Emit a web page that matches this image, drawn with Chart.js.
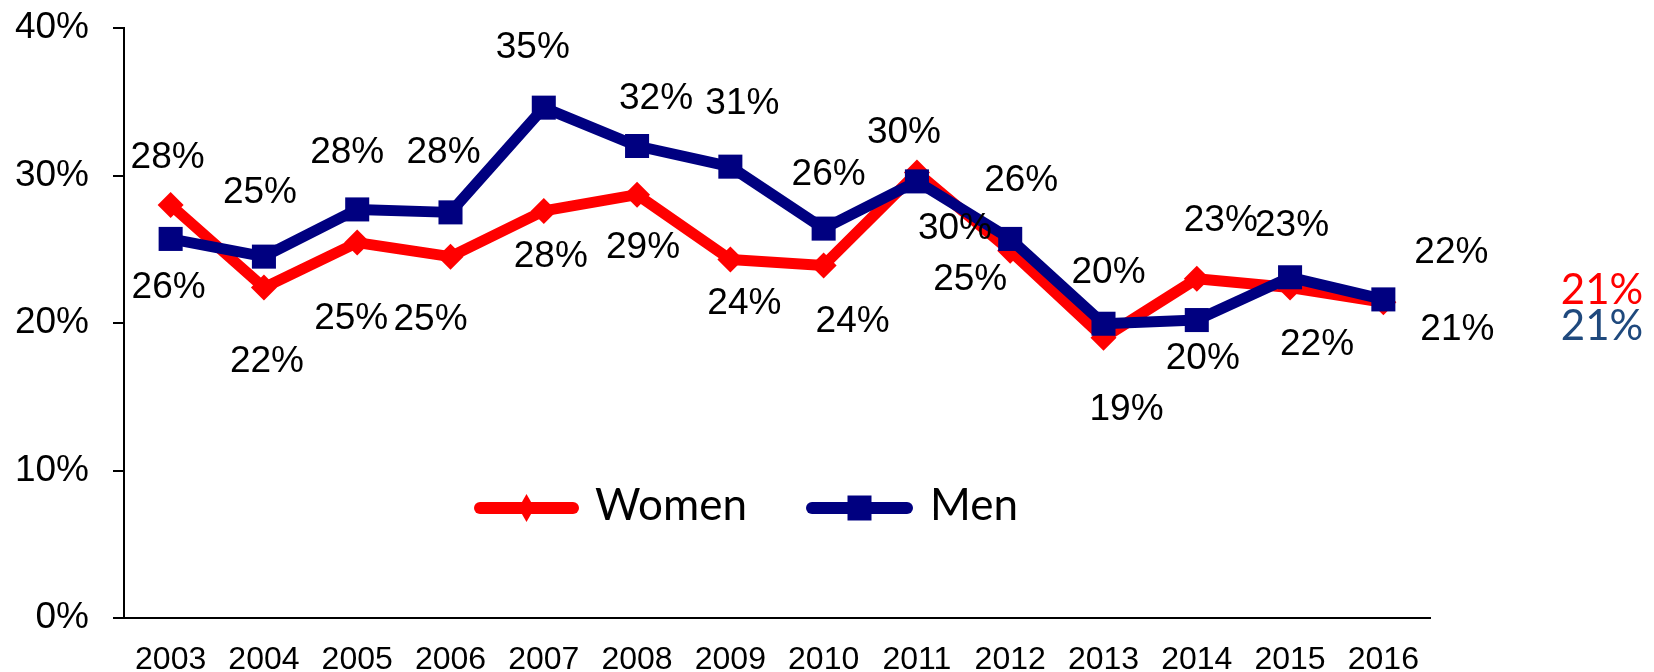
<!DOCTYPE html>
<html>
<head>
<meta charset="utf-8">
<script src="https://cdn.jsdelivr.net/npm/chart.js@4/dist/chart.umd.min.js"></script>
<style>
html,body{margin:0;padding:0;background:#fff;}
#wrap{width:1654px;height:672px;position:relative;}
</style>
</head>
<body>
<div id="wrap"><canvas id="c" width="1654" height="672"></canvas></div>
<script>
// ---- data ----
const years = ['2003','2004','2005','2006','2007','2008','2009','2010','2011','2012','2013','2014','2015','2016'];
const women = [28.0, 22.4, 25.45, 24.5, 27.6, 28.7, 24.3, 23.9, 30.2, 24.9, 19.0, 23.0, 22.4, 21.4];
const men   = [25.7, 24.5, 27.7, 27.5, 34.6, 32.0, 30.6, 26.4, 29.6, 25.7, 19.95, 20.2, 23.1, 21.6];
const seriesNames = ['Women', 'Men'];
const yTickStep = 10;
const yMax = 40;
const endLabels = ['21%', '21%'];

// ---- label placement (pixel offsets from each point) ----
const womenLabelOffsets = [[-3,-47],[3,74],[-6,76],[-20,63],[7,46],[6,53],[14,44],[29,56],[-13,-40],[-40,29],[23,72],[24,-58],[27,57],[74,27]];
const menLabelOffsets   = [[-2,49],[-4,-64],[-10,-57],[-7,-60],[-11,-60],[19,-47],[12,-63],[5,-54],[38,47],[11,-58],[5,-51],[6,39],[2,-51],[68,-47]];

const RED = '#FF0000', NAVY = '#000080', SIDE_BLUE = '#1F497D';
const AXIS_FONT = '"Liberation Sans", Arial, sans-serif';
const LEG_FONT = 'Lato, "Open Sans", sans-serif';

const dataLabelPlugin = {
  id: 'dataLabelPlugin',
  afterDatasetsDraw(chart) {
    const ctx = chart.ctx;
    const offsets = [womenLabelOffsets, menLabelOffsets];
    ctx.save();
    ctx.font = '37px ' + AXIS_FONT;
    ctx.fillStyle = '#000';
    ctx.textAlign = 'center';
    ctx.textBaseline = 'middle';
    chart.data.datasets.forEach((ds, di) => {
      const meta = chart.getDatasetMeta(di);
      meta.data.forEach((pt, i) => {
        const o = offsets[di][i];
        ctx.fillText(Math.round(ds.data[i]) + '%', pt.x + o[0], pt.y + o[1]);
      });
    });
    ctx.restore();
  }
};

const legendPlugin = {
  id: 'legendPlugin',
  afterDraw(chart) {
    const ctx = chart.ctx;
    const items = [
      {x1: 480, x2: 573, text: seriesNames[0], color: RED, marker: 'diamond', tx: 595},
      {x1: 812, x2: 907, text: seriesNames[1], color: NAVY, marker: 'square', tx: 930}
    ];
    const y = 508;
    ctx.save();
    items.forEach(it => {
      ctx.strokeStyle = it.color;
      ctx.lineWidth = 12;
      ctx.lineCap = 'round';
      ctx.beginPath();
      ctx.moveTo(it.x1, y);
      ctx.lineTo(it.x2, y);
      ctx.stroke();
      const cx = (it.x1 + it.x2) / 2;
      ctx.fillStyle = it.color;
      ctx.beginPath();
      if (it.marker === 'diamond') {
        ctx.moveTo(cx, y - 14); ctx.lineTo(cx + 8, y); ctx.lineTo(cx, y + 14); ctx.lineTo(cx - 8, y); ctx.closePath();
      } else {
        ctx.rect(cx - 12, y - 12.5, 24, 25);
      }
      ctx.fill();
      ctx.fillStyle = '#000';
      ctx.font = '44px ' + LEG_FONT;
      ctx.textAlign = 'left';
      ctx.textBaseline = 'middle';
      ctx.fillText(it.text, it.tx, y - 2);
    });
    // side labels
    ctx.font = '42px ' + LEG_FONT;
    ctx.textAlign = 'center';
    ctx.textBaseline = 'middle';
    ctx.fillStyle = RED;
    ctx.fillText(endLabels[0], 1602, 290);
    ctx.fillStyle = SIDE_BLUE;
    ctx.fillText(endLabels[1], 1602, 326);
    ctx.restore();
  }
};

new Chart(document.getElementById('c'), {
  type: 'line',
  data: {
    labels: years,
    datasets: [
      {
        label: seriesNames[0], data: women, order: 1,
        borderColor: RED, backgroundColor: RED, borderWidth: 11,
        pointStyle: 'rectRot', pointRadius: 13, pointBackgroundColor: RED, pointBorderColor: RED, pointBorderWidth: 0,
        borderJoinStyle: 'round', borderCapStyle: 'round', tension: 0, fill: false
      },
      {
        label: seriesNames[1], data: men, order: 0,
        borderColor: NAVY, backgroundColor: NAVY, borderWidth: 11,
        pointStyle: 'rect', pointRadius: 17, pointBackgroundColor: NAVY, pointBorderColor: NAVY, pointBorderWidth: 0,
        borderJoinStyle: 'round', borderCapStyle: 'round', tension: 0, fill: false
      }
    ]
  },
  options: {
    responsive: false,
    animation: false,
    devicePixelRatio: 1,
    events: [],
    layout: { padding: { top: 28, right: 224, bottom: 0, left: 0 } },
    plugins: { legend: { display: false }, tooltip: { enabled: false } },
    scales: {
      x: {
        type: 'category',
        offset: true,
        grid: { display: false },
        border: { display: true, color: '#000', width: 2 },
        ticks: { color: '#000', padding: 15, font: { family: AXIS_FONT, size: 32 }, maxRotation: 0, autoSkip: false },
        afterFit(scale) { scale.height = 54; scale.paddingLeft = 0; scale.paddingRight = 0; }
      },
      y: {
        min: 0, max: yMax,
        grid: { drawOnChartArea: false, drawTicks: true, tickLength: 11, color: '#000', lineWidth: 2 },
        border: { display: true, color: '#000', width: 2 },
        ticks: { stepSize: yTickStep, color: '#000', padding: 24, font: { family: AXIS_FONT, size: 37, lineHeight: 0.2 }, callback: v => v + '%' },
        afterFit(scale) { scale.width = 124; scale.paddingTop = 0; scale.paddingBottom = 0; }
      }
    }
  },
  plugins: [dataLabelPlugin, legendPlugin]
});
</script>
</body>
</html>
